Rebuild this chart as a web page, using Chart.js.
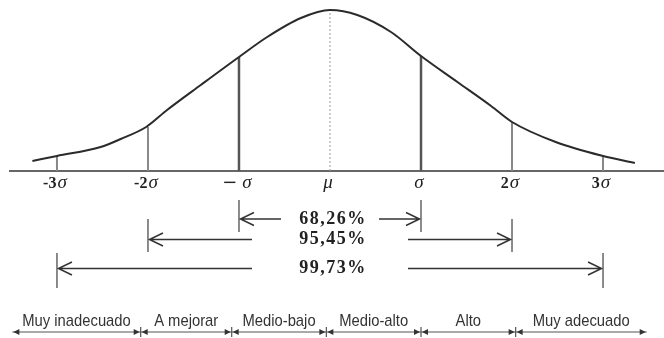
<!DOCTYPE html>
<html>
<head>
<meta charset="utf-8">
<script src="https://cdn.jsdelivr.net/npm/chart.js@4.4.1/dist/chart.umd.min.js"></script>
<style>
  html, body { margin: 0; padding: 0; background: #fff; }
  canvas { display: block; }
</style>
</head>
<body>
<canvas id="curva" width="664" height="338"></canvas>
<script>
// curva: x en unidades de sigma, altura sobre la linea base
const curveX = [-3.27, -3.0, -2.52, -2.30, -2.02, -1.79, -1.42, -1.0, -0.69, -0.32, 0, 0.30, 0.67, 1.0, 1.40, 1.77, 2.0, 2.48, 3.0, 3.35];
const curveY = [10, 15, 24, 32, 44, 61, 86, 114, 134, 153, 161, 156, 139, 115, 89, 65, 49, 29, 15, 8];

const sigmaX = [-3, -2, -1, 1, 2, 3];
const sigmaH = [15, 44, 114, 115, 49, 15];
const peakH = 161;

const tickValues = [-3, -2, -1, 0, 1, 2, 3];
const tickLabels = ['-3σ', '-2σ', '−σ', 'μ', 'σ', '2σ', '3σ'];

const pctSpans = [1, 2, 3];
const pctLabels = ['68,26%', '95,45%', '99,73%'];

const bandEdges = [-3.49, -2.08, -1.08, -0.04, 1.0, 2.04, 3.48];
const bandLabels = ['Muy inadecuado', 'A mejorar', 'Medio-bajo', 'Medio-alto', 'Alto', 'Muy adecuado'];

// dibuja etiquetas, flechas y la fila de categorias
const extras = {
    id: 'extras',
    afterDraw(chart) {
        const ctx = chart.ctx;
        const x = chart.scales.x;
        const base = chart.chartArea.bottom;
        const mu = x.getPixelForValue(0);
        ctx.save();
        ctx.textAlign = 'left';

        // etiquetas de sigma
        ctx.fillStyle = '#222';
        ctx.textBaseline = 'alphabetic';
        tickValues.forEach(function(v, i) {
            const lab = tickLabels[i];
            const head = lab.slice(0, -1);
            const tail = lab.slice(-1);
            const headFont = head === '−' ? '18px "DejaVu Serif"' : 'bold 16px "Liberation Serif"';
            const tailFont = 'italic 19px "Liberation Serif"';
            ctx.font = headFont;
            const w1 = head ? ctx.measureText(head).width : 0;
            const gap = head === '−' ? 5 : (head ? 1 : 0);
            ctx.font = tailFont;
            const w2 = ctx.measureText(tail).width;
            const left = x.getPixelForValue(v) - 2 - (w1 + gap + w2) / 2;
            const yb = base + 17;
            if (head) {
                ctx.font = headFont;
                ctx.fillText(head, left, yb);
            }
            ctx.font = tailFont;
            ctx.fillText(tail, left + w1 + gap, yb);
        });

        // flechas de porcentajes
        const rows = [
            { y: 48, top: 29, bot: 61, gap: 49 },
            { y: 68.5, top: 48, bot: 81, gap: 78 },
            { y: 97.5, top: 82, bot: 117, gap: 78 }
        ];
        pctSpans.forEach(function(s, i) {
            const r = rows[i];
            const L = x.getPixelForValue(-s);
            const R = x.getPixelForValue(s);
            const y = base + r.y;
            ctx.strokeStyle = '#666';
            ctx.lineWidth = 1.5;
            ctx.beginPath();
            ctx.moveTo(L, base + r.top); ctx.lineTo(L, base + r.bot);
            ctx.moveTo(R, base + r.top); ctx.lineTo(R, base + r.bot);
            ctx.stroke();

            ctx.strokeStyle = '#333';
            ctx.beginPath();
            ctx.moveTo(L + 1, y); ctx.lineTo(mu - r.gap, y);
            ctx.moveTo(mu + r.gap, y); ctx.lineTo(R - 1, y);
            ctx.moveTo(L + 15, y - 6.5); ctx.lineTo(L + 1.5, y); ctx.lineTo(L + 15, y + 6.5);
            ctx.moveTo(R - 15, y - 6.5); ctx.lineTo(R - 1.5, y); ctx.lineTo(R - 15, y + 6.5);
            ctx.stroke();

            ctx.fillStyle = '#222';
            ctx.font = 'bold 18px "Liberation Serif"';
            ctx.letterSpacing = '1.5px';
            ctx.textBaseline = 'middle';
            const w = ctx.measureText(pctLabels[i]).width;
            ctx.fillText(pctLabels[i], mu + 3 - w / 2, y);
            ctx.letterSpacing = '0px';
        });

        // fila de categorias
        const ly = base + 161;
        const px = bandEdges.map(function(e) { return x.getPixelForValue(e); });
        ctx.strokeStyle = '#555';
        ctx.fillStyle = '#333';
        ctx.lineWidth = 1.2;
        ctx.beginPath();
        ctx.moveTo(px[0], ly); ctx.lineTo(px[px.length - 1], ly);
        for (let j = 1; j < px.length - 1; j++) {
            ctx.moveTo(px[j], ly - 5); ctx.lineTo(px[j], ly + 5);
        }
        ctx.stroke();
        for (let j = 0; j < bandLabels.length; j++) {
            const a = px[j], b = px[j + 1];
            ctx.beginPath();
            ctx.moveTo(a + 1, ly); ctx.lineTo(a + 7, ly - 3); ctx.lineTo(a + 7, ly + 3);
            ctx.closePath();
            ctx.moveTo(b - 1, ly); ctx.lineTo(b - 7, ly - 3); ctx.lineTo(b - 7, ly + 3);
            ctx.closePath();
            ctx.fill();
            // letra estrecha: se comprime en horizontal
            ctx.save();
            ctx.translate((a + b) / 2, base + 150.5);
            ctx.scale(0.87, 1);
            ctx.font = '17px "Liberation Sans", sans-serif';
            ctx.textBaseline = 'middle';
            ctx.textAlign = 'center';
            ctx.fillText(bandLabels[j], 0, 0);
            ctx.restore();
        }
        ctx.restore();
    }
};

const datasets = [
    {
        data: curveX.map(function(v, i) { return { x: v, y: curveY[i] }; }),
        borderColor: '#2b2b2b',
        borderWidth: 2,
        pointRadius: 0,
        cubicInterpolationMode: 'monotone'
    },
    {
        data: [{ x: 0, y: 0 }, { x: 0, y: peakH }],
        borderColor: '#999',
        borderWidth: 1,
        borderDash: [2, 2],
        pointRadius: 0
    }
];
sigmaX.forEach(function(s, i) {
    datasets.push({
        data: [{ x: s, y: 0 }, { x: s, y: sigmaH[i] }],
        borderColor: Math.abs(s) === 1 ? '#555' : '#888',
        borderWidth: Math.abs(s) === 1 ? 2.5 : 2,
        pointRadius: 0
    });
});

new Chart(document.getElementById('curva'), {
    type: 'line',
    data: { datasets: datasets },
    options: {
        responsive: false,
        animation: false,
        events: [],
        layout: { padding: { left: 10, right: 0, top: 0, bottom: 0 } },
        plugins: {
            legend: { display: false },
            tooltip: { enabled: false }
        },
        scales: {
            x: {
                type: 'linear',
                min: -3.516,
                max: 3.670,
                grid: { display: false },
                ticks: { display: false },
                border: { display: true, color: '#666', width: 2 },
                afterFit: function(scale) { scale.height = 167; }
            },
            y: { display: false, min: 0, max: 171 }
        }
    },
    plugins: [extras]
});
</script>
</body>
</html>
